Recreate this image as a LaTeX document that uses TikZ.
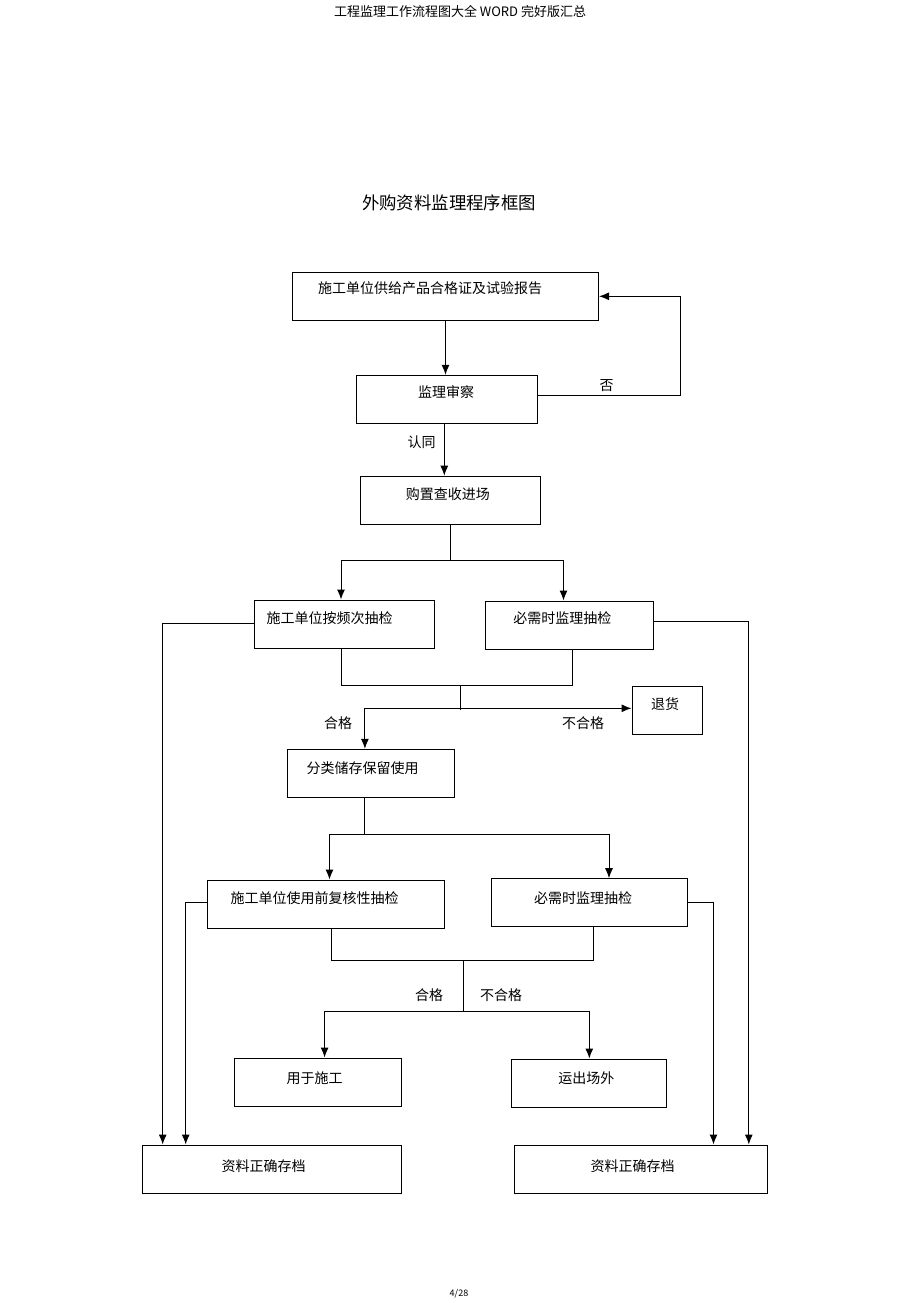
\documentclass[tikz,border=0pt]{standalone}
\usepackage{fontspec}
\newfontfamily\cjk{Noto Sans CJK SC}
\usetikzlibrary{arrows.meta}
\usetikzlibrary{positioning}

\begin{document}
\begin{tikzpicture}[x=1pt,y=-1pt,line width=1pt,
box/.style={draw,inner sep=0pt,minimum height=48pt},
txt/.style={font=\cjk\fontsize{14}{16}\selectfont,inner sep=0pt},
arr/.style={-{Latex[length=10pt,width=8pt]}}]
\useasboundingbox (0,0) rectangle (920,1303);

\node[txt,font=\cjk\fontsize{13}{15}\selectfont] (head) at (460,11.7) {工程监理工作流程图大全 WORD 完好版汇总};
\node[txt,font=\cjk\fontsize{17.4}{20}\selectfont] (title) at (449,203) {外购资料监理程序框图};
\node[txt,font=\cjk\fontsize{9}{11}\selectfont] (page) at (459,1294) {4/28};

\node[box,minimum width=306pt] (supply) at (445.5,296.3) {};
\node[box,minimum width=181pt] (review) at (447,399.3) {};
\node[box,minimum width=180pt] (buy) at (450.9,500.2) {};
\node[box,minimum width=180pt] (freq) at (344.9,624) {};
\node[box,minimum width=168pt] (check) at (569.9,625) {};
\node[box,minimum width=70pt] (returns) at (667,710) {};
\node[box,minimum width=167pt] (store) at (370.5,773.3) {};
\node[box,minimum width=237pt] (recheck) at (326.2,904) {};
\node[box,minimum width=196pt] (checkb) at (589.8,902.7) {};
\node[box,minimum width=167pt] (use) at (317.5,1082) {};
\node[box,minimum width=155pt] (out) at (589.3,1083) {};
\node[box,minimum width=259pt] (archl) at (271.5,1169) {};
\node[box,minimum width=253pt] (archr) at (640.5,1169) {};

\node[txt] (supplyt) at ([xshift=-15.5pt,yshift=8pt]supply.center) {施工单位供给产品合格证及试验报告};
\node[txt] (reviewt) at ([xshift=-1pt,yshift=7.6pt]review.center) {监理审察};
\node[txt] (buyt) at ([xshift=-3pt,yshift=6pt]buy.center) {购置查收进场};
\node[txt] (freqt) at ([xshift=-15.4pt,yshift=5.7pt]freq.center) {施工单位按频次抽检};
\node[txt] (checkt) at ([xshift=-7.6pt,yshift=7pt]check.center) {必需时监理抽检};
\node[txt] (returnst) at ([xshift=-2pt,yshift=5.7pt]returns.center) {退货};
\node[txt] (storet) at ([xshift=-8pt,yshift=5.3pt]store.center) {分类储存保留使用};
\node[txt] (recheckt) at ([xshift=-11.5pt,yshift=6pt]recheck.center) {施工单位使用前复核性抽检};
\node[txt] (checkbt) at ([xshift=-6.8pt,yshift=4.7pt]checkb.center) {必需时监理抽检};
\node[txt] (uset) at ([xshift=-3pt,yshift=4pt]use.center) {用于施工};
\node[txt] (outt) at ([xshift=-3pt,yshift=5pt]out.center) {运出场外};
\node[txt] (archlt) at ([xshift=-7.8pt,yshift=3pt]archl.center) {资料正确存档};
\node[txt] (archrt) at ([xshift=-7.8pt,yshift=3pt]archr.center) {资料正确存档};

\node[txt] (no) at (606.7,385.7) {否};
\node[txt] (yes) at (421.7,441.7) {认同};
\node[txt] (pass) at (338,723) {合格};
\node[txt] (fail) at (583,723) {不合格};
\node[txt] (passb) at (429,995) {合格};
\node[txt] (failb) at (501,995) {不合格};

\coordinate (back) at (680,395.7);
\coordinate (s1) at (450,560.7);
\coordinate (m1) at (341,685.3);
\coordinate (m2) at (572.6,685.3);
\coordinate (j1) at (460.6,685.3);
\coordinate (j2) at (460.6,710);
\coordinate (ok1) at (364.9,708.3);
\coordinate (s2) at (364.9,834);
\coordinate (n1) at (331.3,960.3);
\coordinate (n2) at (593.6,960.3);
\coordinate (k1) at (463.5,960.3);
\coordinate (k2) at (463.5,1011);
\coordinate (l1) at (162.7,623);
\coordinate (l2) at (185.7,902);
\coordinate (r1) at (748.8,621);
\coordinate (r2) at (713.5,902);

\draw[arr] (supply.south) -- (supply.south |- review.north);
\draw[arr] ([yshift=3.6pt]review.east) -- (back) |- (supply.east);
\draw[arr] ([xshift=-2.7pt]review.south) -- ([xshift=-2.7pt]review.south |- buy.north);
\draw (buy.south -| s1) -- (s1);
\draw[arr] (s1) -| ([xshift=-3.9pt]freq.north);
\draw[arr] (s1) -| ([xshift=-6.4pt]check.north);
\draw (freq.south -| m1) -- (m1) -- (m2) -- (check.south -| m2);
\draw (j1) -- (j2);
\draw[arr] (ok1) -- (ok1 -| returns.west);
\draw[arr] (ok1) -- (ok1 |- store.north);
\draw (store.south -| s2) -- (s2);
\draw[arr] (s2) -| ([xshift=3.3pt]recheck.north);
\draw[arr] (s2) -| ([xshift=19.2pt]checkb.north);
\draw (recheck.south -| n1) -- (n1) -- (n2) -- (checkb.south -| n2);
\draw (k1) -- (k2);
\draw[arr] (k2) -| ([xshift=7.1pt]use.north);
\draw[arr] (k2) -| (out.north);
\draw[arr] (freq.west |- l1) -- (l1) -- (l1 |- archl.north);
\draw[arr] (recheck.west |- l2) -- (l2) -- (l2 |- archl.north);
\draw[arr] (check.east |- r1) -- (r1) -- (r1 |- archr.north);
\draw[arr] (checkb.east |- r2) -- (r2) -- (r2 |- archr.north);
\end{tikzpicture}
\end{document}
